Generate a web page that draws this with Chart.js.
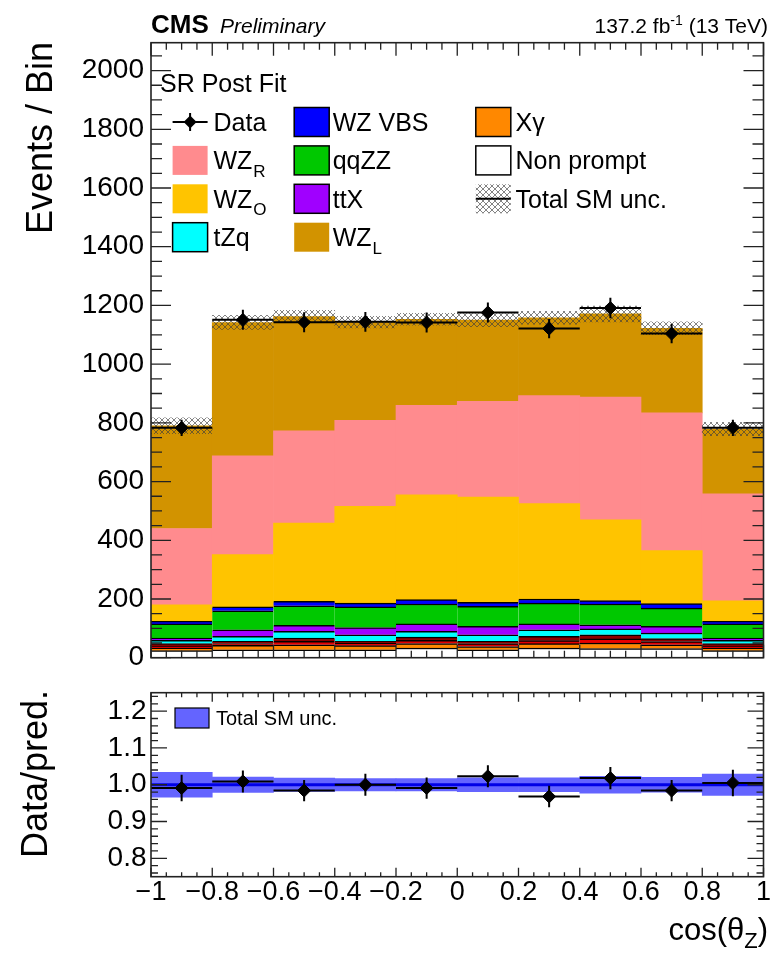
<!DOCTYPE html>
<html>
<head>
<meta charset="utf-8">
<script src="https://cdn.jsdelivr.net/npm/chart.js@4.4.1/dist/chart.umd.min.js"></script>
<style>
  html, body { margin: 0; padding: 0; background: #fff; }
  #wrap { position: relative; width: 771px; height: 958px; overflow: hidden; }
  canvas { position: absolute; left: 0; }
</style>
</head>
<body>
<div id="wrap">
  <canvas id="main" width="771" height="676" style="top:0;width:771px;height:676px"></canvas>
  <canvas id="ratio" width="771" height="282" style="top:676px;width:771px;height:282px"></canvas>
</div>
<script>
// cos(theta_Z) bins, 10 bins of width 0.2
const binCenters = [-0.9, -0.7, -0.5, -0.3, -0.1, 0.1, 0.3, 0.5, 0.7, 0.9];
const binHalf = 0.1;
const xTickLabels = ["\u22121", "\u22120.8", "\u22120.6", "\u22120.4", "\u22120.2", "0", "0.2", "0.4", "0.6", "0.8", "1"];

// post-fit stack, bottom to top (events / bin)
const nonPrompt = [24, 27, 27, 27, 33, 27, 33, 31, 31, 24];
const xGamma = [9, 15, 17, 14, 15, 11, 15, 19, 13, 9];
const otherRed = [7, 6, 12, 9, 11, 10, 10, 14, 11, 7];
const otherDarkRed = [8, 8, 11, 6, 11, 8, 15, 14, 10, 8];
const tZq = [11, 17, 23, 22, 20, 22, 22, 20, 19, 11];
const ttX = [8, 22, 20, 25, 25, 29, 20, 14, 23, 8];
const qqZZ = [48, 65, 67, 70, 68, 68, 71, 71, 62, 48];
const wzVBS = [9, 13, 15, 13, 15, 14, 14, 12, 15, 9];
const wzO = [56, 178, 267, 330, 357, 358, 325, 275, 181, 70];
const wzR = [260, 337, 314, 293, 305, 326, 368, 418, 469, 364];
const wzL = [350, 454, 389, 334, 293, 277, 265, 283, 288, 221];
const totalUnc = [27, 24, 21, 20, 20, 22, 22, 27, 22, 23];

// observed data
const dataCounts = [783, 1151, 1143, 1144, 1142, 1176, 1121, 1191, 1104, 783];
const dataErr = [28, 34, 34, 34, 34, 34, 33, 35, 33, 28];

// ratio panel
const ratioVals = [0.991, 1.009, 0.984, 1.0, 0.991, 1.023, 0.968, 1.018, 0.984, 1.005];
const ratioErr = [0.036, 0.030, 0.029, 0.030, 0.029, 0.030, 0.029, 0.030, 0.029, 0.036];
const ratioUnc = [0.034, 0.021, 0.018, 0.017, 0.017, 0.019, 0.019, 0.023, 0.020, 0.029];

const yMax = 2095;
const FONT = "'Liberation Sans', Arial, Helvetica, sans-serif";

Chart.defaults.font.family = FONT;
Chart.defaults.color = "#000";
Chart.defaults.animation = false;
Chart.defaults.plugins.legend.display = false;
Chart.defaults.plugins.tooltip.enabled = false;

function pts(ys) {
  return binCenters.map((x, i) => ({ x: x, y: ys[i] }));
}

// crosshatch like ROOT style 3013
function makeHatch(ctx) {
  const c = document.createElement("canvas");
  c.width = 6;
  c.height = 6;
  const g = c.getContext("2d");
  g.strokeStyle = "rgba(60,60,60,0.8)";
  g.lineWidth = 0.8;
  g.beginPath();
  g.moveTo(0, 0); g.lineTo(6, 6);
  g.moveTo(6, 0); g.lineTo(0, 6);
  g.stroke();
  return ctx.createPattern(c, "repeat");
}

const mainCanvas = document.getElementById("main");
const hatch = makeHatch(mainCanvas.getContext("2d"));

const layers = [
  { label: "Non prompt", data: nonPrompt, color: "#ffffff", outline: true },
  { label: "X\u03b3", data: xGamma, color: "#ff8800", outline: true },
  { label: "other1", data: otherRed, color: "#e60000", outline: true },
  { label: "other2", data: otherDarkRed, color: "#8c0000", outline: true },
  { label: "tZq", data: tZq, color: "#00ffff", outline: true },
  { label: "ttX", data: ttX, color: "#a000ff", outline: true },
  { label: "qqZZ", data: qqZZ, color: "#00c800", outline: true },
  { label: "WZ VBS", data: wzVBS, color: "#0000ff", outline: true },
  { label: "WZ_O", data: wzO, color: "#ffc400", outline: false },
  { label: "WZ_R", data: wzR, color: "#ff8b8e", outline: false },
  { label: "WZ_L", data: wzL, color: "#d29300", outline: false },
];

const stackTotal = binCenters.map((_, i) =>
  layers.reduce((s, l) => s + l.data[i], 0),
);

const stackSets = layers.map((l) => ({
  type: "bar",
  label: l.label,
  data: pts(l.data),
  backgroundColor: l.color,
  borderColor: l.outline ? "#000" : l.color,
  borderWidth: l.outline ? { top: 1.5, left: 0, right: 0, bottom: 0 } : 0,
  outline: l.outline,
  stack: "bkg",
  barPercentage: 1,
  categoryPercentage: 1,
  order: 3,
}));

function drawTicks(ctx, chart, xTicks, yTicks) {
  const a = chart.chartArea;
  const xs = chart.scales.x;
  const ys = chart.scales.y;
  ctx.save();
  ctx.strokeStyle = "#222";
  ctx.lineWidth = 1.3;
  ctx.beginPath();
  xTicks.forEach((t) => {
    const px = xs.getPixelForValue(t.v);
    ctx.moveTo(px, a.bottom); ctx.lineTo(px, a.bottom - t.len);
    ctx.moveTo(px, a.top); ctx.lineTo(px, a.top + t.len);
  });
  yTicks.forEach((t) => {
    const py = ys.getPixelForValue(t.v);
    ctx.moveTo(a.left, py); ctx.lineTo(a.left + t.len, py);
    ctx.moveTo(a.right, py); ctx.lineTo(a.right - t.len, py);
  });
  ctx.stroke();
  ctx.lineWidth = 1.6;
  ctx.strokeRect(a.left, a.top, a.right - a.left, a.bottom - a.top);
  ctx.restore();
}

function drawErrors(ctx, chart, vals, errs) {
  const xs = chart.scales.x;
  const ys = chart.scales.y;
  ctx.save();
  ctx.strokeStyle = "#000";
  ctx.lineWidth = 2;
  ctx.beginPath();
  binCenters.forEach((c, i) => {
    const px = xs.getPixelForValue(c);
    const py = ys.getPixelForValue(vals[i]);
    ctx.moveTo(xs.getPixelForValue(c - binHalf), py);
    ctx.lineTo(xs.getPixelForValue(c + binHalf), py);
    ctx.moveTo(px, ys.getPixelForValue(vals[i] - errs[i]));
    ctx.lineTo(px, ys.getPixelForValue(vals[i] + errs[i]));
  });
  ctx.stroke();
  ctx.restore();
}

// text with an optional "_x" subscript
function labelText(ctx, text, x, yMid, size) {
  const parts = text.split("_");
  const base = yMid + size * 0.36;
  ctx.font = size + "px " + FONT;
  ctx.fillText(parts[0], x, base);
  if (parts[1]) {
    const w = ctx.measureText(parts[0]).width;
    ctx.font = Math.round(size * 0.68) + "px " + FONT;
    ctx.fillText(parts[1], x + w + 1, base + size * 0.3);
  }
}

function diamond(ctx, x, y, r) {
  ctx.beginPath();
  ctx.moveTo(x, y - r); ctx.lineTo(x + r, y);
  ctx.lineTo(x, y + r); ctx.lineTo(x - r, y);
  ctx.closePath();
  ctx.fill();
}

const legendRows = [
  ["Data", "WZ VBS", "X\u03b3"],
  ["WZ_R", "qqZZ", "Non prompt"],
  ["WZ_O", "ttX", "Total SM unc."],
  ["tZq", "WZ_L"],
];

const mainDecor = {
  id: "mainDecor",
  afterDatasetsDraw(chart) {
    drawErrors(chart.ctx, chart, dataCounts, dataErr);
  },
  afterDraw(chart) {
    const ctx = chart.ctx;
    const xt = [];
    for (let k = 0; k <= 40; k++) xt.push({ v: -1 + k * 0.05, len: k % 4 === 0 ? 13 : 7 });
    const yt = [];
    for (let k = 0; k * 50 <= yMax; k++) yt.push({ v: k * 50, len: k % 4 === 0 ? 20 : 11 });
    drawTicks(ctx, chart, xt, yt);

    ctx.save();
    ctx.fillStyle = "#000";
    ctx.textBaseline = "alphabetic";
    ctx.textAlign = "left";
    ctx.font = "bold 26px " + FONT;
    ctx.fillText("CMS", 151, 33);
    ctx.font = "italic 21px " + FONT;
    ctx.fillText("Preliminary", 220, 33);

    // lumi label, right aligned
    ctx.font = "21px " + FONT;
    const p1 = "137.2 fb", p3 = " (13 TeV)";
    const w1 = ctx.measureText(p1).width;
    const w3 = ctx.measureText(p3).width;
    ctx.font = "14px " + FONT;
    const w2 = ctx.measureText("-1").width;
    let lx = 768 - (w1 + w2 + w3);
    ctx.font = "21px " + FONT;
    ctx.fillText(p1, lx, 33);
    ctx.font = "14px " + FONT;
    ctx.fillText("-1", lx + w1, 25);
    ctx.font = "21px " + FONT;
    ctx.fillText(p3, lx + w1 + w2, 33);

    // y title
    ctx.save();
    ctx.translate(52, 42);
    ctx.rotate(-Math.PI / 2);
    ctx.textAlign = "right";
    ctx.font = "36px " + FONT;
    ctx.fillText("Events / Bin", 0, 0);
    ctx.restore();

    labelText(ctx, "SR Post Fit", 160, 83, 25);

    // legend, 3 columns like the ROOT TLegend
    const boxX = [172.6, 294.2, 475.8];
    const textX = [213.5, 332.7, 515.5];
    const bw = 35, bh = 29;
    const sets = chart.data.datasets;
    legendRows.forEach((row, r) => {
      const cy = 122 + r * 38.4;
      row.forEach((name, c) => {
        const bx = boxX[c];
        if (name === "Data") {
          ctx.strokeStyle = "#000";
          ctx.lineWidth = 2;
          ctx.beginPath();
          ctx.moveTo(bx, cy); ctx.lineTo(bx + bw, cy);
          ctx.moveTo(bx + bw / 2, cy - 9); ctx.lineTo(bx + bw / 2, cy + 9);
          ctx.stroke();
          ctx.fillStyle = "#000";
          diamond(ctx, bx + bw / 2, cy, 6.5);
        } else if (name === "Total SM unc.") {
          ctx.fillStyle = hatch;
          ctx.fillRect(bx, cy - bh / 2, bw, bh);
          ctx.strokeStyle = "#000";
          ctx.lineWidth = 2;
          ctx.beginPath();
          ctx.moveTo(bx, cy); ctx.lineTo(bx + bw, cy);
          ctx.stroke();
        } else {
          const ds = sets.find((d) => d.label === name);
          ctx.fillStyle = ds.backgroundColor;
          ctx.fillRect(bx, cy - bh / 2, bw, bh);
          if (ds.outline) {
            ctx.strokeStyle = "#000";
            ctx.lineWidth = 1.5;
            ctx.strokeRect(bx, cy - bh / 2, bw, bh);
          }
        }
        ctx.fillStyle = "#000";
        labelText(ctx, name, textX[c], cy, 25);
      });
    });
    ctx.restore();
  },
};

new Chart(mainCanvas, {
  type: "bar",
  data: {
    datasets: [
      {
        type: "line",
        label: "Data",
        data: pts(dataCounts),
        showLine: false,
        pointStyle: "rectRot",
        pointRadius: 6.5,
        pointBackgroundColor: "#000",
        pointBorderColor: "#000",
        order: 0,
      },
      {
        type: "bar",
        label: "Total SM unc.",
        data: binCenters.map((x, i) => ({
          x: x,
          y: [stackTotal[i] - totalUnc[i], stackTotal[i] + totalUnc[i]],
        })),
        backgroundColor: hatch,
        borderWidth: 0,
        grouped: false,
        barPercentage: 1,
        categoryPercentage: 1,
        order: 1,
      },
    ].concat(stackSets),
  },
  options: {
    responsive: false,
    maintainAspectRatio: false,
    layout: { padding: { top: 42.7, bottom: 18.3, left: 0, right: 2 } },
    scales: {
      x: {
        type: "linear",
        min: -1,
        max: 1,
        offset: false,
        ticks: { display: false, stepSize: 0.2 },
        grid: { display: false, drawTicks: false },
        border: { display: false },
        afterFit: (s) => { s.height = 0; s.paddingLeft = 0; s.paddingRight = 0; },
      },
      y: {
        type: "linear",
        min: 0,
        max: yMax,
        ticks: {
          stepSize: 200,
          includeBounds: false,
          padding: 7,
          font: { size: 28 },
          callback: (v) => String(v),
        },
        grid: { display: false, drawTicks: false },
        border: { display: false },
        afterFit: (s) => { s.width = 151; s.paddingTop = 0; s.paddingBottom = 0; },
      },
    },
  },
  plugins: [mainDecor],
});

const ratioDecor = {
  id: "ratioDecor",
  afterDatasetsDraw(chart) {
    drawErrors(chart.ctx, chart, ratioVals, ratioErr);
  },
  afterDraw(chart) {
    const ctx = chart.ctx;
    const xt = [];
    for (let k = 0; k <= 40; k++) xt.push({ v: -1 + k * 0.05, len: k % 4 === 0 ? 9 : 4.5 });
    const yt = [];
    for (let k = 38; k <= 62; k++) yt.push({ v: k * 0.02, len: k % 5 === 0 ? 16 : 7 });
    drawTicks(ctx, chart, xt, yt);

    ctx.save();
    ctx.fillStyle = "#000";
    ctx.textBaseline = "alphabetic";

    // y title
    ctx.save();
    ctx.translate(47, 14);
    ctx.rotate(-Math.PI / 2);
    ctx.textAlign = "right";
    ctx.font = "36px " + FONT;
    ctx.fillText("Data/pred.", 0, 0);
    ctx.restore();

    // x title cos(theta_Z), right aligned
    ctx.textAlign = "left";
    ctx.font = "31px " + FONT;
    const a1 = "cos(\u03b8", a3 = ")";
    const wa1 = ctx.measureText(a1).width;
    const wa3 = ctx.measureText(a3).width;
    ctx.font = "22px " + FONT;
    const wa2 = ctx.measureText("Z").width;
    const tx = 768 - (wa1 + wa2 + wa3);
    ctx.font = "31px " + FONT;
    ctx.fillText(a1, tx, 264);
    ctx.font = "22px " + FONT;
    ctx.fillText("Z", tx + wa1, 272);
    ctx.font = "31px " + FONT;
    ctx.fillText(a3, tx + wa1 + wa2, 264);

    // legend
    ctx.fillStyle = "#6464ff";
    ctx.fillRect(175, 32, 34, 20);
    ctx.strokeStyle = "#000";
    ctx.lineWidth = 1.2;
    ctx.strokeRect(175, 32, 34, 20);
    ctx.fillStyle = "#000";
    labelText(ctx, "Total SM unc.", 216, 42, 20);
    ctx.restore();
  },
};

new Chart(document.getElementById("ratio"), {
  type: "bar",
  data: {
    datasets: [
      {
        type: "line",
        label: "Data",
        data: pts(ratioVals),
        showLine: false,
        pointStyle: "rectRot",
        pointRadius: 6.5,
        pointBackgroundColor: "#000",
        pointBorderColor: "#000",
        order: 0,
      },
      {
        type: "line",
        label: "nominal",
        data: [{ x: -1, y: 1 }, { x: 1, y: 1 }],
        borderColor: "#0000e6",
        borderWidth: 3,
        pointRadius: 0,
        order: 1,
      },
      {
        type: "bar",
        label: "Total SM unc.",
        data: binCenters.map((x, i) => ({ x: x, y: [1 - ratioUnc[i], 1 + ratioUnc[i]] })),
        backgroundColor: "#6464ff",
        borderWidth: 0,
        barPercentage: 1,
        categoryPercentage: 1,
        order: 2,
      },
    ],
  },
  options: {
    responsive: false,
    maintainAspectRatio: false,
    layout: { padding: { top: 16.7, bottom: 0, left: 0, right: 2 } },
    scales: {
      x: {
        type: "linear",
        min: -1,
        max: 1,
        offset: false,
        ticks: {
          stepSize: 0.2,
          padding: 2,
          maxRotation: 0,
          autoSkip: false,
          font: { size: 27, lineHeight: 1 },
          callback: (v) => xTickLabels[Math.round((v + 1) / 0.2)],
        },
        grid: { display: false, drawTicks: false },
        border: { display: false },
        afterFit: (s) => { s.height = 81.3; s.paddingLeft = 0; s.paddingRight = 0; },
      },
      y: {
        type: "linear",
        min: 0.75,
        max: 1.2502,
        ticks: {
          stepSize: 0.1,
          includeBounds: false,
          padding: 4.5,
          font: { size: 28 },
          callback: (v) => v.toFixed(1),
        },
        grid: { display: false, drawTicks: false },
        border: { display: false },
        afterFit: (s) => { s.width = 151; s.paddingTop = 0; s.paddingBottom = 0; },
      },
    },
  },
  plugins: [ratioDecor],
});
</script>
</body>
</html>
